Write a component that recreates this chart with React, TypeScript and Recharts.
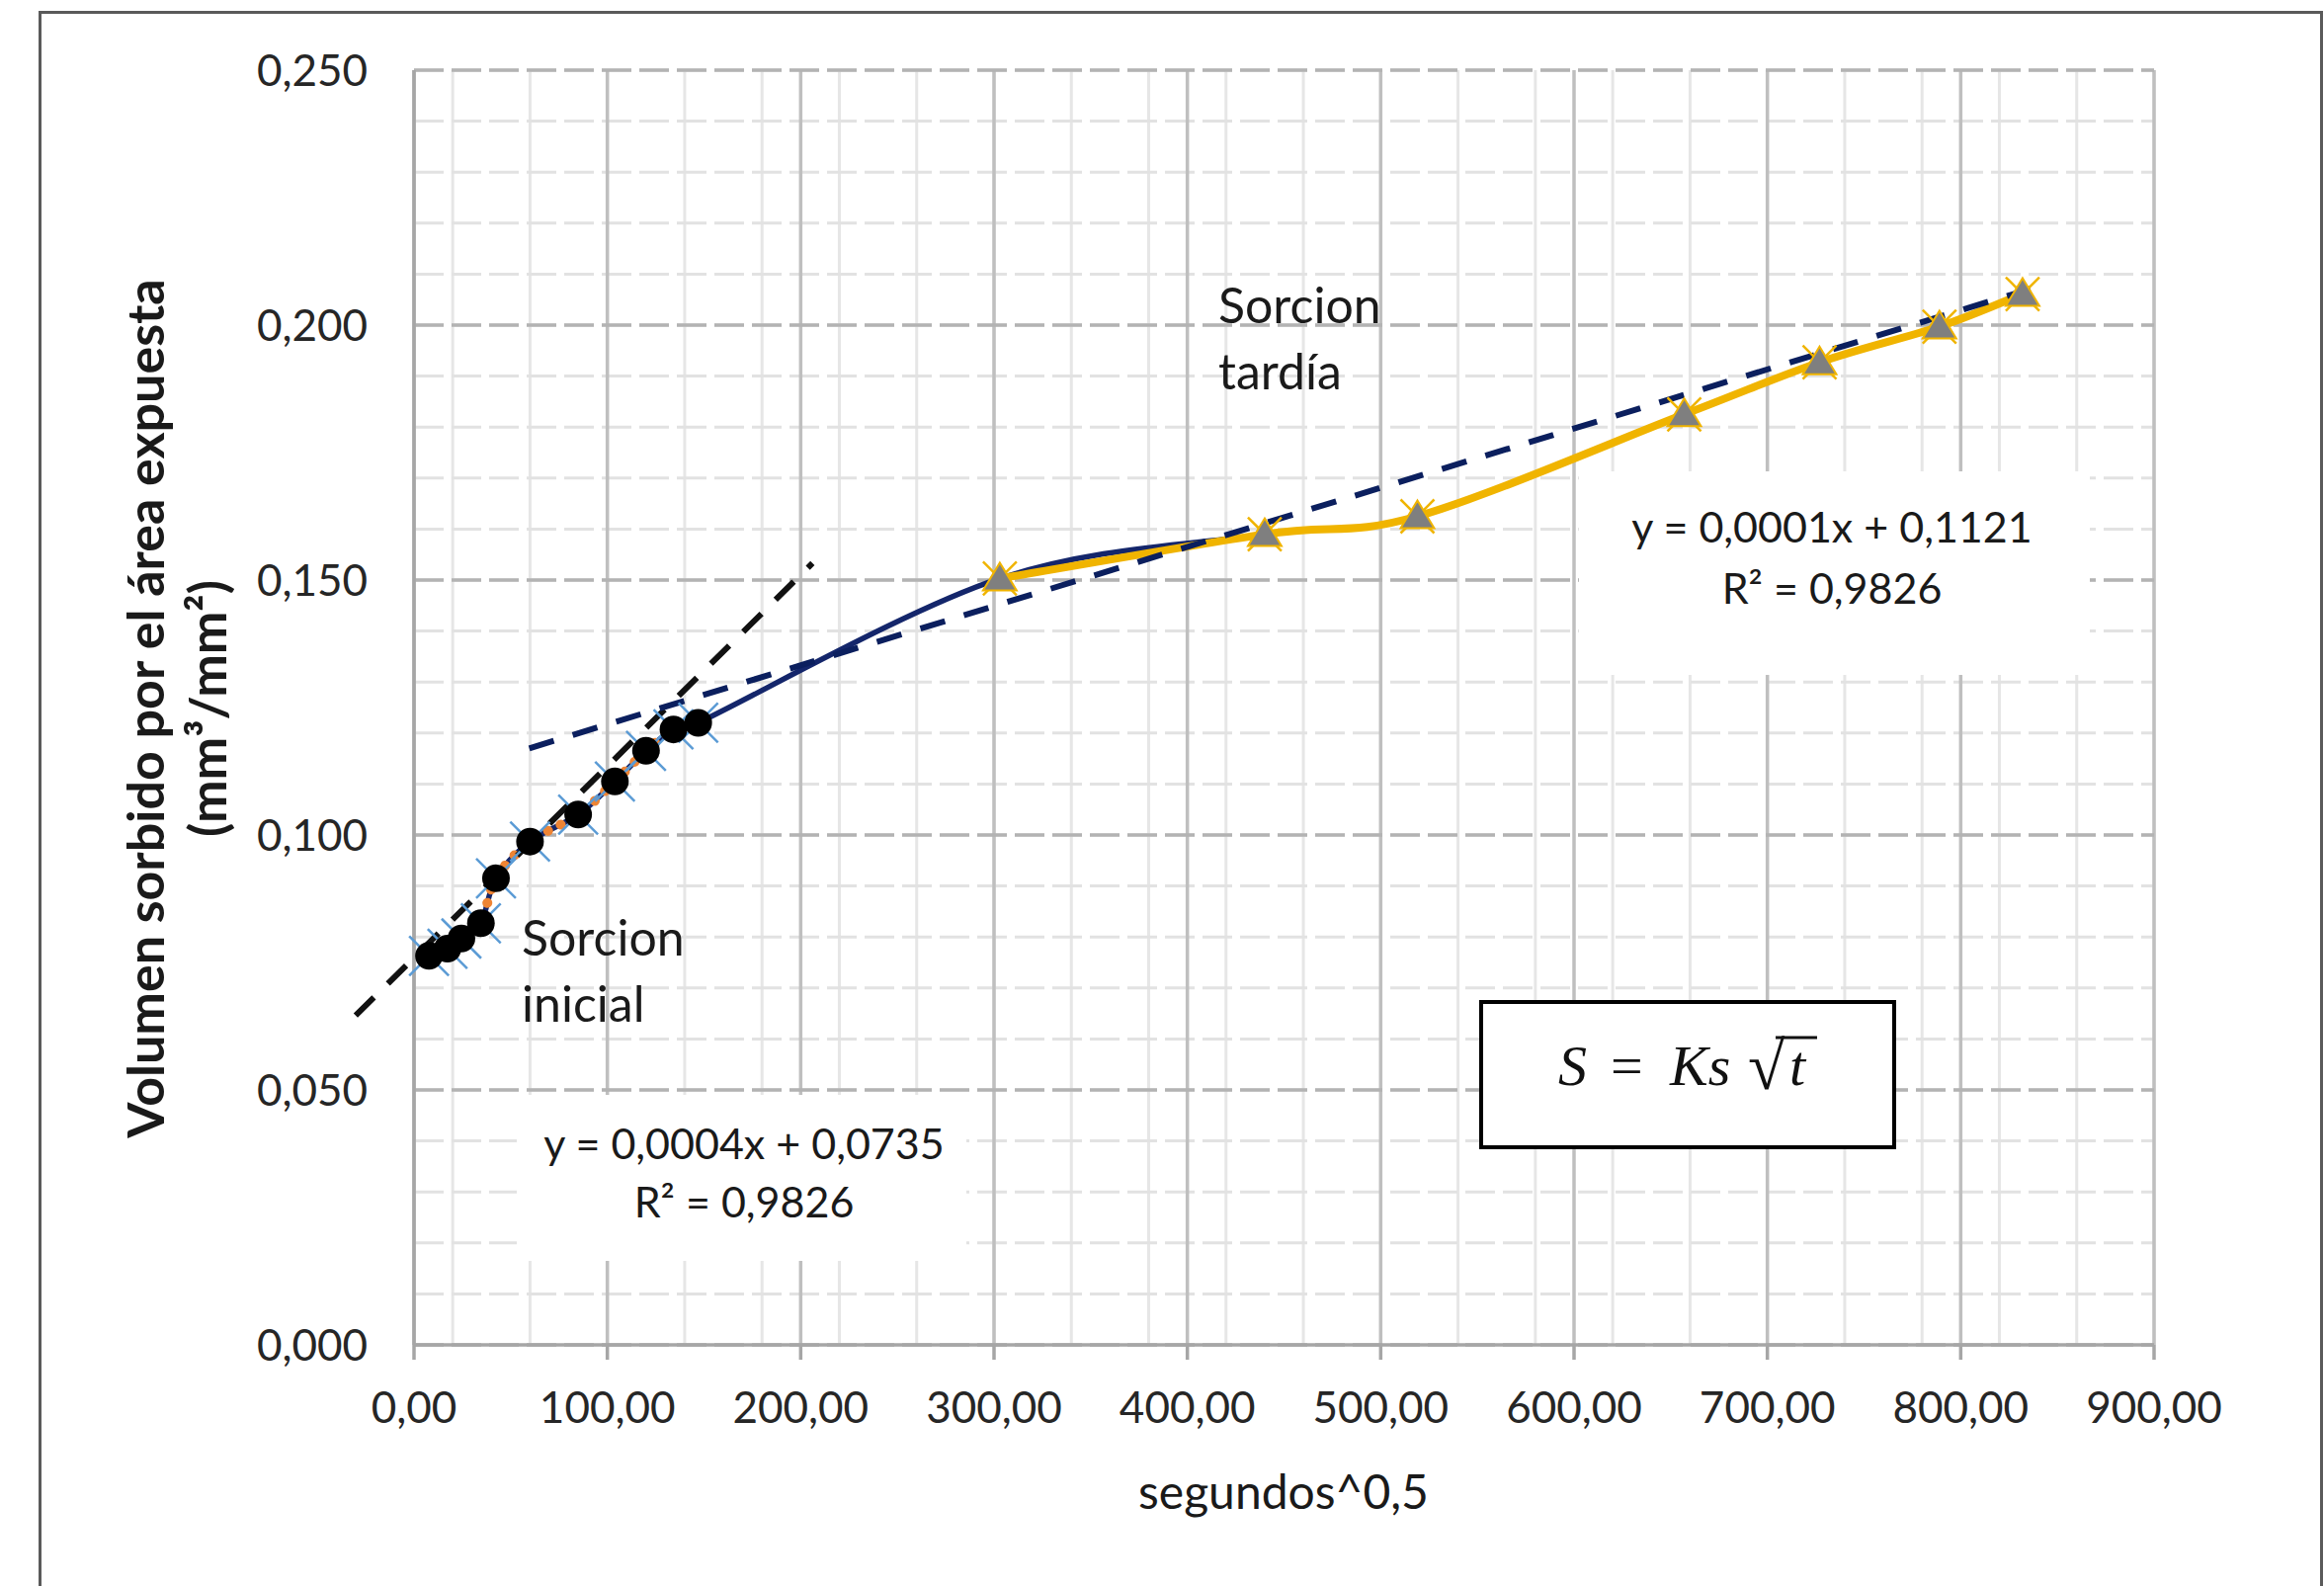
import React from 'react';
import { LineChart, Line, XAxis, YAxis, CartesianGrid, ReferenceLine } from 'recharts';

// sorción inicial (raíz de segundos, volumen por área)
const tiempoInicial = [7.75, 17.3, 24.5, 34.6, 42.4, 60.0, 84.9, 103.9, 120.0, 134.2, 147.0];
const volumenInicial = [0.0763, 0.0777, 0.0797, 0.0827, 0.0915, 0.0987, 0.104, 0.1105, 0.1165, 0.1207, 0.122];

// sorción tardía
const tiempoTardio = [303, 440, 519, 657, 727, 789, 832];
const volumenTardio = [0.1503, 0.159, 0.1625, 0.1825, 0.1927, 0.1997, 0.2061];

// líneas de tendencia, extremos
const tendInicialX = [-30.2, 206.1];
const tendInicialY = [0.0646, 0.1533];
const tendTardiaX = [59.6, 836];
const tendTardiaY = [0.117, 0.2071];

const xTicks = [0, 100, 200, 300, 400, 500, 600, 700, 800, 900];
const yTicks = [0, 0.05, 0.1, 0.15, 0.2, 0.25];
const xMinor = Array.from({ length: 46 }, (_, i) => i * 20);
const yMinor = Array.from({ length: 26 }, (_, i) => Math.round(i * 10) / 1000);

const inicial = tiempoInicial.map((x, i) => ({ x, y: volumenInicial[i] }));
const tardio = tiempoTardio.map((x, i) => ({ x, y: volumenTardio[i] }));
const todos = [...inicial, ...tardio];

const fmtX = (v: number) => v.toFixed(2).replace('.', ',');
const fmtY = (v: number) => v.toFixed(3).replace('.', ',');

const NAVY = '#14266b';
const GOLD = '#f0b400';

// suavizado tipo Excel (Catmull-Rom en Bézier)
const suave = (context: any) => {
  let pts: number[][] = [];
  return {
    areaStart() {},
    areaEnd() {},
    lineStart() {
      pts = [];
    },
    point(x: number, y: number) {
      pts.push([+x, +y]);
    },
    lineEnd() {
      const n = pts.length;
      if (!n) return;
      context.moveTo(pts[0][0], pts[0][1]);
      for (let i = 0; i < n - 1; i++) {
        const p0 = pts[Math.max(i - 1, 0)];
        const p1 = pts[i];
        const p2 = pts[i + 1];
        const p3 = pts[Math.min(i + 2, n - 1)];
        context.bezierCurveTo(
          p1[0] + (p2[0] - p0[0]) / 6,
          p1[1] + (p2[1] - p0[1]) / 6,
          p2[0] - (p3[0] - p1[0]) / 6,
          p2[1] - (p3[1] - p1[1]) / 6,
          p2[0],
          p2[1],
        );
      }
    },
  };
};

const CruzAzul = (p: any) => {
  const { cx, cy, index } = p;
  if (cx == null || cy == null) return null;
  const s = 20;
  return (
    <g key={`ca-${index}`}>
      <line x1={cx - s} y1={cy - s} x2={cx + s} y2={cy + s} stroke="#5b9bd5" strokeWidth={2.5} />
      <line x1={cx - s} y1={cy + s} x2={cx + s} y2={cy - s} stroke="#5b9bd5" strokeWidth={2.5} />
    </g>
  );
};

const CirculoNegro = (p: any) => {
  const { cx, cy, index } = p;
  if (cx == null || cy == null) return null;
  return <circle key={`cn-${index}`} cx={cx} cy={cy} r={14} fill="#000" />;
};

const CruzDorada = (p: any) => {
  const { cx, cy, index } = p;
  if (cx == null || cy == null) return null;
  const s = 17;
  return (
    <g key={`cd-${index}`}>
      <line x1={cx - s} y1={cy - s} x2={cx + s} y2={cy + s} stroke={GOLD} strokeWidth={2.5} />
      <line x1={cx - s} y1={cy + s} x2={cx + s} y2={cy - s} stroke={GOLD} strokeWidth={2.5} />
    </g>
  );
};

const Triangulo = (p: any) => {
  const { cx, cy, index } = p;
  if (cx == null || cy == null) return null;
  return (
    <path
      key={`tr-${index}`}
      d={`M${cx},${cy - 16} L${cx + 17},${cy + 12} L${cx - 17},${cy + 12} Z`}
      fill="#7f7f7f"
      stroke={GOLD}
      strokeWidth={2}
    />
  );
};

const tickStyle = { fontFamily: 'Lato', fontSize: 44, fill: '#262626' };

const Texto = ({ x, y, size, center, children }: any) => (
  <div
    style={{
      position: 'absolute',
      left: x,
      top: y,
      transform: center ? 'translate(-50%, -50%)' : 'translateY(-50%)',
      fontFamily: 'Lato',
      fontSize: size,
      lineHeight: `${size}px`,
      color: '#1a1a1a',
      whiteSpace: 'nowrap',
    }}
  >
    {children}
  </div>
);

export default function App() {
  return (
    <div style={{ position: 'absolute', left: 0, top: 0, width: 2352, height: 1605, overflow: 'hidden', background: '#fff' }}>
      <div style={{ position: 'absolute', left: 39, top: 11, width: 2312, height: 1700, border: '3px solid #5a5a5a', boxSizing: 'border-box' }} />
      <div style={{ position: 'absolute', left: 0, top: 0 }}>
        <LineChart width={2352} height={1605} margin={{ top: 71, right: 172, bottom: 184, left: 339 }}>
          <CartesianGrid horizontal={false} verticalValues={xMinor} stroke="#e6e6e6" strokeWidth={3} />
          <CartesianGrid vertical={false} horizontalValues={yMinor} stroke="#e2e2e2" strokeWidth={3} strokeDasharray="30 8" />
          <CartesianGrid horizontal={false} verticalValues={xTicks} stroke="#bfbfbf" strokeWidth={3.5} />
          <CartesianGrid vertical={false} horizontalValues={yTicks} stroke="#b3b3b3" strokeWidth={3.5} strokeDasharray="30 8" />
          <XAxis
            type="number"
            dataKey="x"
            domain={[0, 900]}
            ticks={xTicks}
            tickFormatter={fmtX}
            tick={tickStyle}
            height={60}
            tickSize={15}
            tickMargin={33}
            axisLine={{ stroke: '#a6a6a6', strokeWidth: 3.5 }}
            tickLine={{ stroke: '#a6a6a6', strokeWidth: 3.5 }}
          />
          <YAxis
            type="number"
            dataKey="y"
            domain={[0, 0.25]}
            ticks={yTicks}
            tickFormatter={fmtY}
            tick={tickStyle}
            width={80}
            tickSize={0}
            tickMargin={47}
            axisLine={{ stroke: '#a6a6a6', strokeWidth: 3.5 }}
            tickLine={false}
          />
          <Line data={todos} dataKey="y" type={suave as any} stroke={NAVY} strokeWidth={5.5} dot={false} isAnimationActive={false} />
          <Line data={inicial} dataKey="y" stroke="none" dot={CruzAzul} isAnimationActive={false} />
          <Line data={inicial} dataKey="y" stroke="none" dot={CirculoNegro} isAnimationActive={false} />
          <Line
            data={inicial}
            dataKey="y"
            type={suave as any}
            stroke="#ee8434"
            strokeWidth={10}
            strokeDasharray="0.1 14"
            strokeLinecap="round"
            dot={false}
            isAnimationActive={false}
          />
          <Line data={tardio} dataKey="y" type={suave as any} stroke={GOLD} strokeWidth={8} dot={false} isAnimationActive={false} />
          <Line data={tardio} dataKey="y" stroke="none" dot={CruzDorada} isAnimationActive={false} />
          <Line data={tardio} dataKey="y" stroke="none" dot={Triangulo} isAnimationActive={false} />
          <ReferenceLine
            segment={[
              { x: tendInicialX[0], y: tendInicialY[0] },
              { x: tendInicialX[1], y: tendInicialY[1] },
            ]}
            ifOverflow="visible"
            stroke="#111"
            strokeWidth={6}
            strokeDasharray="26 20"
          />
          <ReferenceLine
            segment={[
              { x: tendTardiaX[0], y: tendTardiaY[0] },
              { x: tendTardiaX[1], y: tendTardiaY[1] },
            ]}
            ifOverflow="visible"
            stroke="#0b1f5e"
            strokeWidth={6}
            strokeDasharray="26 20"
          />
        </LineChart>
      </div>

      {/* título del eje y */}
      <div
        style={{
          position: 'absolute',
          left: 178,
          top: 717,
          transform: 'translate(-50%, -50%) rotate(-90deg)',
          fontFamily: 'Lato',
          fontWeight: 700,
          fontSize: 52,
          lineHeight: '63px',
          textAlign: 'center',
          whiteSpace: 'nowrap',
          color: '#1a1a1a',
        }}
      >
        Volumen sorbido por el área expuesta
        <br />
        (mm³/mm²)
      </div>
      <Texto x={1299} y={1509} size={48} center>
        segundos^0,5
      </Texto>

      <Texto x={1233} y={308} size={50}>Sorcion</Texto>
      <Texto x={1233} y={375} size={50}>tardía</Texto>
      <Texto x={528} y={948} size={50}>Sorcion</Texto>
      <Texto x={528} y={1015} size={50}>inicial</Texto>

      <div style={{ position: 'absolute', left: 523, top: 1108, width: 455, height: 168, background: '#fff' }} />
      <Texto x={753} y={1156} size={43} center>y = 0,0004x + 0,0735</Texto>
      <Texto x={753} y={1215} size={43} center>R² = 0,9826</Texto>

      <div style={{ position: 'absolute', left: 1598, top: 477, width: 517, height: 206, background: '#fff' }} />
      <Texto x={1854} y={532} size={43} center>y = 0,0001x + 0,1121</Texto>
      <Texto x={1854} y={594} size={43} center>R² = 0,9826</Texto>

      {/* recuadro de la ecuación */}
      <div
        style={{
          position: 'absolute',
          left: 1497,
          top: 1012,
          width: 422,
          height: 151,
          border: '4px solid #000',
          boxSizing: 'border-box',
          background: '#fff',
        }}
      >
        <svg width={414} height={143} style={{ position: 'absolute', left: 0, top: 0 }}>
          <g fontFamily="Liberation Serif" fontStyle="italic" fontSize={58} fill="#111">
            <text x={76} y={82}>S</text>
            <text x={129} y={82} fontStyle="normal">=</text>
            <text x={189} y={82}>Ks</text>
            <text x={268} y={86} fontStyle="normal" fontSize={68}>√</text>
            <text x={310} y={82}>t</text>
          </g>
          <line x1={296} y1={34} x2={338} y2={34} stroke="#111" strokeWidth={3} />
        </svg>
      </div>
    </div>
  );
}
